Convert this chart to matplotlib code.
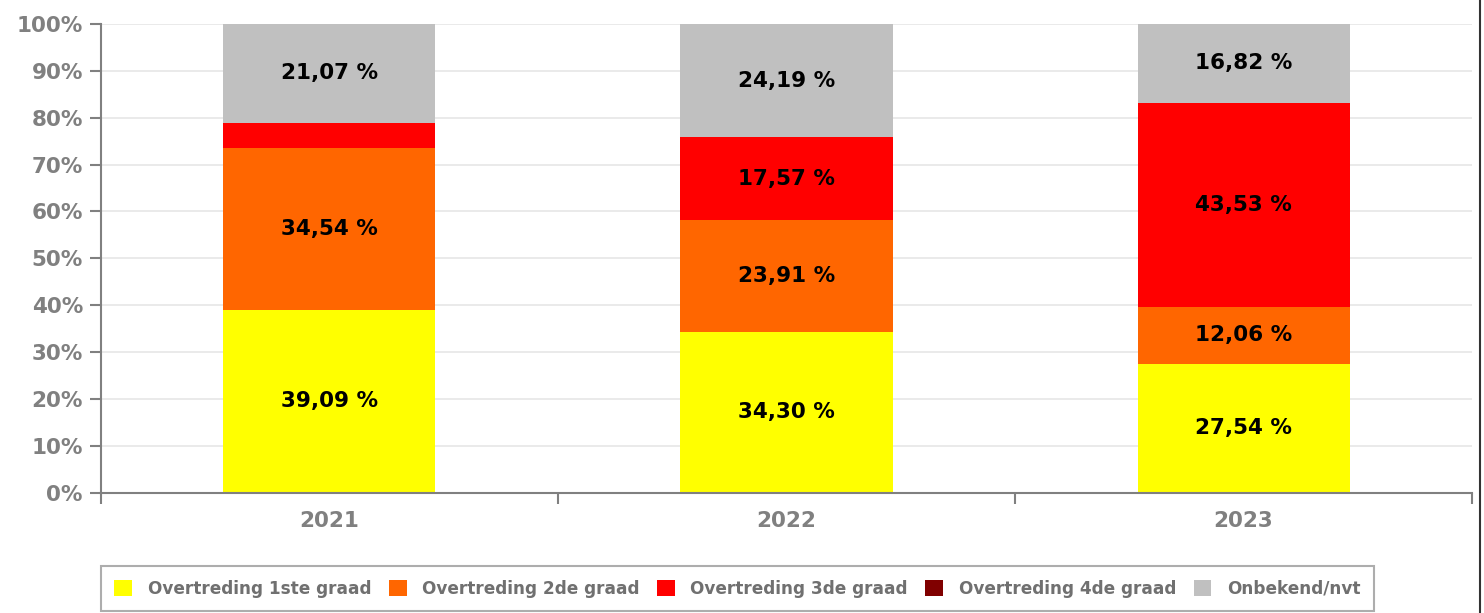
import numpy as np
import matplotlib.pyplot as plt
from matplotlib.patches import Patch
from matplotlib.lines import Line2D

years = ["2021", "2022", "2023"]
graad1 = [39.09, 34.30, 27.54]
graad2 = [34.54, 23.91, 12.06]
graad3 = [5.30, 17.57, 43.53]
graad4 = [0.0, 0.03, 0.05]
onbekend = [21.07, 24.19, 16.82]

series = [graad1, graad2, graad3, graad4, onbekend]
names = ["Overtreding 1ste graad", "Overtreding 2de graad", "Overtreding 3de graad",
         "Overtreding 4de graad", "Onbekend/nvt"]
colors = ["#ffff00", "#ff6600", "#ff0000", "#800000", "#c0c0c0"]

grey = "#808080"

fig = plt.figure(figsize=(14.84, 6.13), dpi=100)
ax = fig.add_axes([0.068, 0.196, 0.924, 0.765])

x = np.arange(len(years))
bottom = np.zeros(len(years))
for vals, name, c in zip(series, names, colors):
    vals = np.array(vals)
    ax.bar(x, vals, 0.464, bottom=bottom, color=c, label=name, zorder=2)
    for xi, b, v in zip(x, bottom, vals):
        if v >= 10:
            ax.text(xi, b + v / 2, f"{v:.2f} %".replace(".", ","), ha="center", va="center",
                    fontsize=15.5, fontweight="bold", color="black", zorder=3)
    bottom += vals

ax.set_xlim(-0.5, 2.5)
ax.set_ylim(0, 100)
ax.set_yticks(np.arange(0, 101, 10))
ax.set_yticklabels([f"{v}%" for v in range(0, 101, 10)])
ax.grid(axis="y", color="#e6e6e6", linewidth=1.2, zorder=0)

ax.set_xticks([-0.5, 0.5, 1.5, 2.5])
ax.set_xticklabels([])
ax.set_xticks(x, minor=True)
ax.set_xticklabels(years, minor=True)
ax.tick_params(axis="x", which="major", length=8, color=grey, width=1.5)
ax.tick_params(axis="x", which="minor", length=0, pad=13, labelsize=15.5, labelcolor=grey)
ax.tick_params(axis="y", length=8, color=grey, width=1.5, labelsize=15.5, labelcolor=grey, pad=5)
for lab in ax.get_xticklabels(minor=True) + ax.get_yticklabels():
    lab.set_fontweight("bold")

for s in ["top", "right"]:
    ax.spines[s].set_visible(False)
for s in ["left", "bottom"]:
    ax.spines[s].set_color(grey)
    ax.spines[s].set_linewidth(1.5)

handles = [Patch(facecolor=c, edgecolor="none") for c in colors]
leg = fig.legend(handles, names, loc="lower left", bbox_to_anchor=(0.068, 0.003), ncol=5,
                 frameon=True, fancybox=False, edgecolor="#999999", handlelength=1.05,
                 handleheight=1.05, handletextpad=0.9, columnspacing=1.05, borderpad=0.8,
                 borderaxespad=0,
                 prop={"family": "DejaVu Sans", "weight": "bold", "size": 12.2})
leg.get_frame().set_linewidth(1.5)
for t in leg.get_texts():
    t.set_color("#707070")

fig.add_artist(Line2D([0.997, 0.997], [0, 1], color="#333333", linewidth=1.5))

fig.savefig("out.png", dpi=100)
